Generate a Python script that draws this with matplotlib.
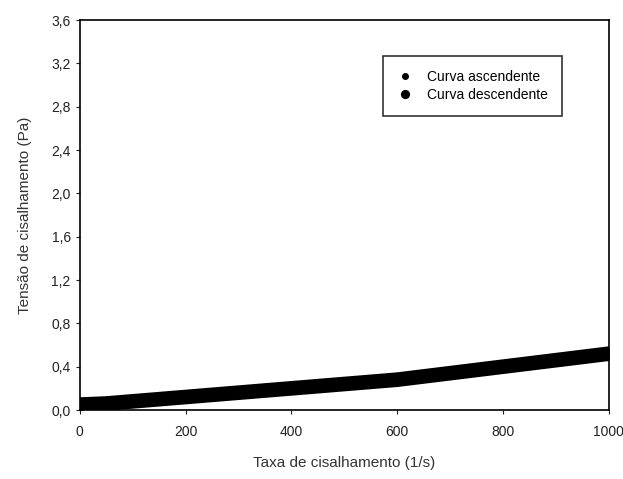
import matplotlib
matplotlib.use('Agg')
from matplotlib import pyplot as plt
from matplotlib.ticker import FuncFormatter

plt.rcParams['font.family'] = ['Liberation Sans', 'DejaVu Sans']

shear_rate = [0, 50, 100, 150, 200, 250, 300, 350, 400, 450, 500,
              550, 600, 650, 700, 750, 800, 850, 900, 950, 1000]
stress_up = [0.03, 0.05, 0.07, 0.09, 0.11, 0.13, 0.15, 0.17, 0.19, 0.21, 0.23,
             0.25, 0.27, 0.30, 0.33, 0.36, 0.39, 0.42, 0.45, 0.48, 0.51]
stress_down = [0.06, 0.07, 0.09, 0.11, 0.13, 0.15, 0.17, 0.19, 0.21, 0.23, 0.25,
               0.27, 0.29, 0.32, 0.35, 0.38, 0.41, 0.44, 0.47, 0.50, 0.53]

fig = plt.figure(figsize=(6.23, 4.79), dpi=100)
ax = fig.add_axes([0.128, 0.144, 0.849, 0.814])

ax.plot(shear_rate, stress_up, color='black', lw=9, solid_capstyle='round',
        marker='o', markersize=5, label='Curva ascendente')
ax.plot(shear_rate, stress_down, color='black', lw=9, solid_capstyle='round',
        marker='o', markersize=7, label='Curva descendente')

ax.set_xlim(0, 1000)
ax.set_ylim(0, 3.6)
ax.set_xticks([0, 200, 400, 600, 800, 1000])
ax.set_yticks([0, 0.4, 0.8, 1.2, 1.6, 2.0, 2.4, 2.8, 3.2, 3.6])
ax.yaxis.set_major_formatter(FuncFormatter(lambda v, p: ('%.1f' % v).replace('.', ',')))
ax.tick_params(direction='out', length=3, labelsize=10, colors='#222222')
ax.tick_params(axis='x', pad=8)

ax.set_xlabel('Taxa de cisalhamento (1/s)', fontsize=11, color='#333333', labelpad=12)
ax.set_ylabel('Tensão de cisalhamento (Pa)', fontsize=11, color='#333333', labelpad=14)

for s in ax.spines.values():
    s.set_linewidth(1.2)

leg = ax.legend(loc='upper left', bbox_to_anchor=(0.56, 0.925), fontsize=10,
                frameon=True, fancybox=False, edgecolor='black',
                handlelength=1.2, handletextpad=1.0, markerscale=0.8,
                borderpad=1.0, labelspacing=0.3)
leg.get_frame().set_linewidth(1.2)
for h in leg.legend_handles:
    h.set_linewidth(0)

fig.savefig('out.png', dpi=100)
